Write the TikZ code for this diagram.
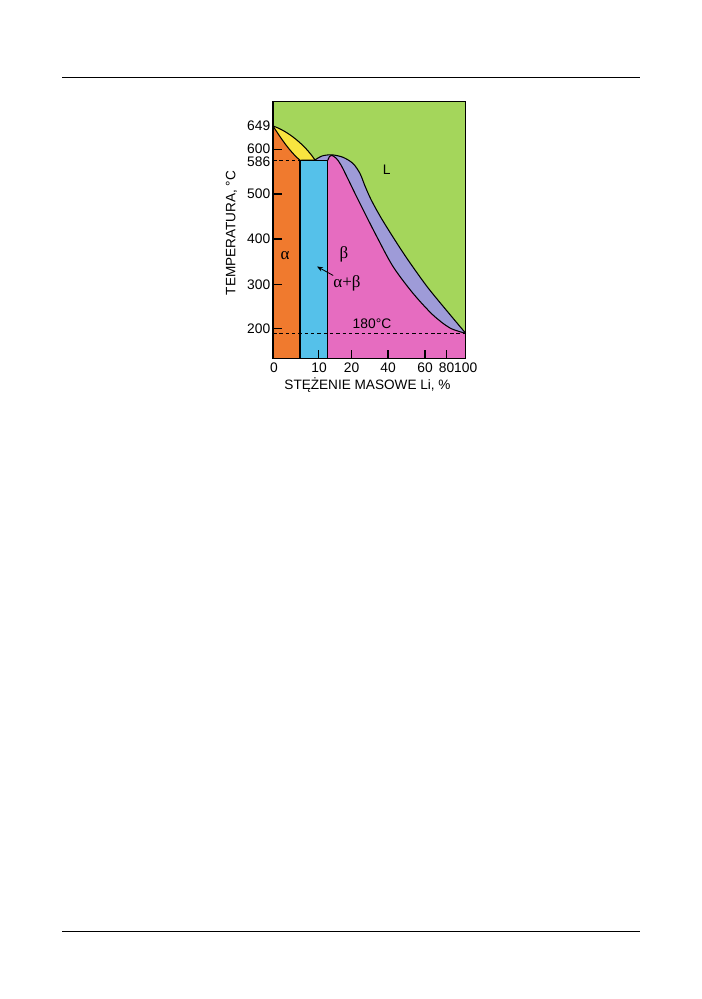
\documentclass[tikz,border=0pt]{standalone}
\usepackage{fontspec}
\setmainfont{Liberation Sans}
\newfontfamily\grkfont{Liberation Serif}
\usetikzlibrary{arrows.meta}
\definecolor{liqgreen}{HTML}{A4D65B}
\definecolor{alorange}{HTML}{F07A2E}
\definecolor{lensyellow}{HTML}{F8E43F}
\definecolor{twoblue}{HTML}{55C1EA}
\definecolor{betapink}{HTML}{E66CC0}
\definecolor{lavend}{HTML}{9E9BD8}
\tikzset{
  frame/.style   ={line width=1.3pt},
  bound/.style   ={line width=0.9pt, line join=round},                % phase boundaries
  tck/.style     ={line width=0.9pt},
  iso/.style     ={line width=0.7pt, dash pattern=on 3pt off 2.4pt}, % 586 and 180 isotherms
  numlbl/.style  ={font=\fontsize{11.8}{12}\selectfont, inner sep=0pt},
  axlbl/.style   ={font=\fontsize{11.6}{12}\selectfont, inner sep=0pt},
  phlbl/.style   ={font=\grkfont\fontsize{14.5}{14.5}\selectfont, inner sep=0pt},
  arr/.style     ={-{Stealth[length=1.8mm, width=1.4mm]}, line width=0.7pt},
  pagerule/.style={line width=0.7pt},
}

\begin{document}
\begin{tikzpicture}[x=0.3mm, y=-0.3mm]
  \useasboundingbox (0,0) rectangle (702,999);
  % page rules
  \coordinate (rtl) at (62,77);   \coordinate (rtr) at (640,77);
  \coordinate (rbl) at (62,931);  \coordinate (rbr) at (640,931);
  \draw[pagerule] (rtl) -- (rtr);
  \draw[pagerule] (rbl) -- (rbr);

  % frame corners
  \coordinate (fnw) at (273,101.7);
  \coordinate (fse) at (465.7,358.3);

  % liquid
  \fill[liqgreen] (fnw) rectangle (fse);
  % beta + L
  \fill[lavend] (315,160) -- plot[smooth] coordinates {(315,160) (322,156) (331.7,154.8) (343,157.3) (353,163.5) (360,173.5) (365,186) (371,199.5) (380,216) (392,235.5) (407,258.5) (427,286.5) (447,311) (465.7,333.3)}
    -- (465.7,358.3) -- (327.7,358.3) -- (327.7,160.3) -- cycle;
  % beta
  \fill[betapink] (327.7,358.3) -- (327.7,160.3) -- (329.5,156.5) -- plot[smooth] coordinates {(331.7,155.3) (336,158) (341,165) (348,179) (356,195.5) (366,215.5) (377,237) (393,266.5) (413,293.3) (433,315) (450,328) (465.7,333.3)}
    -- (465.7,358.3) -- cycle;
  % alpha + beta
  \fill[twoblue] (300,160.3) rectangle (327.7,358.3);
  % alpha
  \fill[alorange] (273,126) .. controls (280,137) and (290,152) .. (300,160.3) -- (300,358.3) -- (273,358.3) -- cycle;
  % alpha + L
  \fill[lensyellow] (273,126) .. controls (288,131) and (305,145) .. (315,160) -- (300,160.3) .. controls (290,152) and (280,137) .. (273,126) -- cycle;

  % boundaries
  \draw[bound] (273,126) .. controls (288,131) and (305,145) .. (315,160);
  \draw[bound] (273,126) .. controls (280,137) and (290,152) .. (300,160.3);
  \draw[bound] (300,358.3) -- (300,160.3) -- (327.7,160.3) -- (327.7,358.3);
  \draw[bound] (300,160.3) -- (315,160);
  \draw[bound] (327.7,160.3) -- (329.5,156.5) -- (331.7,155.3);
  \draw[bound] plot[smooth] coordinates {(315,160) (322,156) (331.7,154.8) (343,157.3) (353,163.5) (360,173.5) (365,186) (371,199.5) (380,216) (392,235.5) (407,258.5) (427,286.5) (447,311) (465.7,333.3)};
  \draw[bound] plot[smooth] coordinates {(331.7,155.3) (336,158) (341,165) (348,179) (356,195.5) (366,215.5) (377,237) (393,266.5) (413,293.3) (433,315) (450,328) (465.7,333.3)};

  % isotherms
  \draw[iso] (273,160.3) -- (300,160.3);
  \draw[iso] (273,333.3) -- (465.7,333.3);

  \draw[frame] (fnw) rectangle (fse);

  % temperature axis
  \foreach \t/\yy in {600/149.3, 500/194, 400/239, 300/284.3, 200/328.7}
    \draw[tck] (273,\yy) -- (281.5,\yy);
  \foreach \t/\yy in {649/126, 600/148.6, 586/161.4, 500/194, 400/239, 300/284.3, 200/328.7}
    \node[numlbl, anchor=east] (t\t) at (270.5,\yy) {\t};
  % concentration axis
  \foreach \c/\xx in {10/318.5, 20/351.5, 40/388, 60/425, 80/446.5}
    \draw[tck] (\xx,358.3) -- (\xx,349.5);
  \foreach \c/\xx in {0/274, 10/319, 20/351.5, 40/388, 60/425, 80/446.5, 100/465.7}
    \node[numlbl, anchor=base] (c\c) at (\xx,372) {\c};

  \node[axlbl, rotate=90] (ylab) at (231.5,233) {TEMPERATURA, °C};
  \node[axlbl, anchor=base] (xlab) at (367.5,389.5) {STĘŻENIE MASOWE Li, \%};

  % phase labels
  \node[numlbl] (lliq) at (386.7,170) {L};
  \node[phlbl] (lal) at (285,256) {α};
  \node[phlbl] (lbe) at (344,254) {β};
  \node[phlbl] (lab) at (347,283.5) {α+β};
  \node[numlbl] (l180) at (372,323.5) {180°C};
  \coordinate (abtip) at (317,266.5);
  \draw[arr] (lab.north west) -- (abtip);
\end{tikzpicture}
\end{document}
